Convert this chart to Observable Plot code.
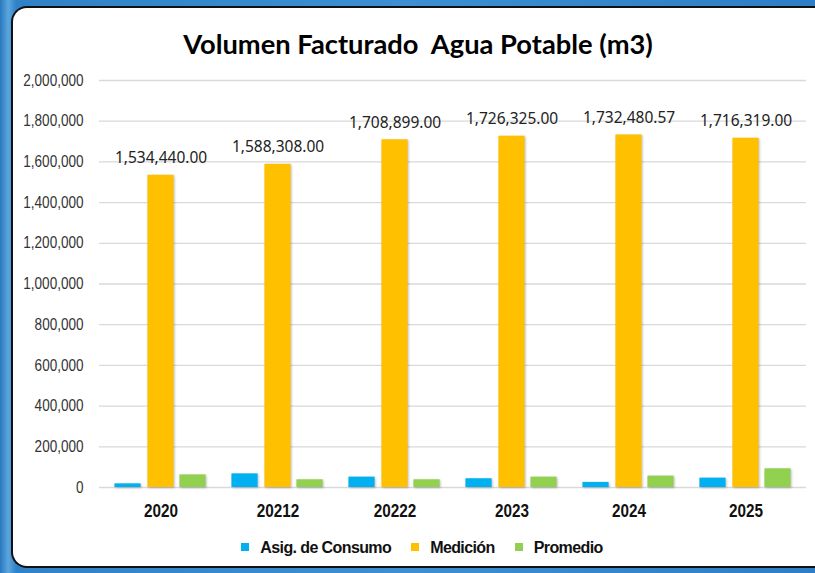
<!DOCTYPE html>
<html>
<head>
<meta charset="utf-8">
<script src="https://cdn.jsdelivr.net/npm/d3@7"></script>
<script src="https://cdn.jsdelivr.net/npm/@observablehq/plot@0.6"></script>
<style>
  html, body { margin: 0; padding: 0; overflow: hidden; background: #2f82c8; }
  #page {
    width: 815px; height: 573px; overflow: hidden; position: relative;
    background: linear-gradient(90deg, #2a78bf 0%, #5aa6de 1%, #2f82c8 2%, #3b8fd2 50%, #2c7ec6 100%);
  }
  #panel {
    position: absolute; left: 11px; top: 6px; width: 900px; height: 558px;
    background: #fff; border-left: 2px solid #111; border-top: 2px solid #111;
    border-bottom: 2px solid #111; border-right: 0 none;
    border-radius: 16px 0 0 16px;
  }
  #corner {
    position: absolute; left: 800px; top: 0px; width: 40px; height: 30px;
    border-top: 2px solid #111; border-right: 2px solid #111; border-top-right-radius: 14px;
    box-sizing: border-box; top: 6px; background: transparent;
    box-shadow: 8px -8px 0 6px #2f82c8;
    clip-path: inset(-20px -20px 0 0);
  }
  #title {
    position: absolute; left: 0; top: 27px; width: 836px; text-align: center;
    font-family: "Lato", "Open Sans", sans-serif; font-weight: bold; font-size: 27.3px; color: #000;
  }
  #chart { position: absolute; left: 0; top: 0; }
  #legend {
    position: absolute; left: 0; width: 844px; top: 539px; text-align: center;
    font-family: "Liberation Sans", Arial, sans-serif;
    font-weight: bold; font-size: 16px; color: #111; letter-spacing: -0.6px;
  }
  #legend span.item { margin: 0 10px; white-space: nowrap; }
  #legend span.sw { display: inline-block; width: 8px; height: 8px; margin-right: 11px; vertical-align: 2px; }
  g.bars { filter: drop-shadow(1.5px 1px 1px rgba(0,0,0,0.25)); }
</style>
</head>
<body>
<div id="page">
<div id="panel"></div>
<div id="title">Volumen Facturado&nbsp; Agua Potable (m3)</div>
<div id="chart"></div>
<div id="legend"></div>
</div>
<script>
const categories = ["2020", "20212", "20222", "2023", "2024", "2025"];
const asigConsumo = [18000, 67000, 51000, 43000, 25000, 46000];
const medicion = [1534440.00, 1588308.00, 1708899.00, 1726325.00, 1732480.57, 1716319.00];
const promedio = [62000, 38000, 38000, 51000, 56000, 92000];
const seriesNames = ["Asig. de Consumo", "Medición", "Promedio"];
const seriesColors = ["#00b0f0", "#ffc000", "#92d050"];
const yTicks = [0, 200000, 400000, 600000, 800000, 1000000, 1200000, 1400000, 1600000, 1800000, 2000000];

const seriesValues = [asigConsumo, medicion, promedio];
const rows = [];
seriesNames.forEach((s, si) => categories.forEach((c, ci) => rows.push({cat: c, series: s, value: seriesValues[si][ci]})));

const W = 815, H = 530, mL = 99, mR = 9;
const bw = (W - mL - mR) / categories.length;
const barW = 27, offs = [-33, 0, 32];

const fmtLabel = d3.format(",.2f");
const sans = '"Liberation Sans", Arial, sans-serif';

const barMarks = seriesNames.map((s, i) => Plot.barY(rows.filter(r => r.series === s), {
  x: "cat", y: "value", fill: seriesColors[i],
  insetLeft: bw / 2 + offs[i] - barW / 2,
  insetRight: bw / 2 - offs[i] - barW / 2,
  className: "bars"
}));

const chart = Plot.plot({
  width: W, height: H,
  marginTop: 80, marginBottom: 43, marginLeft: mL, marginRight: mR,
  style: { background: "transparent", fontFamily: sans, overflow: "visible" },
  x: { domain: categories, padding: 0, label: null },
  y: { domain: [0, 2000000], label: null },
  marks: [
    Plot.gridY(yTicks, { stroke: "#d9d9d9", strokeOpacity: 1, strokeWidth: 1.3 }),
    ...barMarks,
    Plot.text(rows.filter(r => r.series === "Medición"), {
      x: "cat", y: "value", text: d => fmtLabel(d.value), dy: -17,
      fontFamily: '"Noto Sans", sans-serif', fontSize: 15.5, fill: "#222"
    }),
    Plot.axisX({ tickSize: 0, tickPadding: 17, fontSize: 18, fontWeight: "bold", fill: "#111", label: null, className: "xt" }),
    Plot.axisY(yTicks, { tickSize: 0, tickPadding: 16, fontSize: 16, fill: "#333", tickFormat: d3.format(","), label: null, className: "yt" })
  ]
});
document.getElementById("chart").appendChild(chart);

// condensed (Arial Narrow-like) look for axis tick labels
function condense(sel, k) {
  chart.querySelectorAll(sel).forEach(t => {
    const len = t.getComputedTextLength();
    if (len > 0) {
      t.setAttribute("textLength", (len * k).toFixed(1));
      t.setAttribute("lengthAdjust", "spacingAndGlyphs");
    }
  });
}
condense("g.yt text", 0.845);
condense("g.xt text", 0.85);

const legend = document.getElementById("legend");
seriesNames.forEach((s, i) => {
  const item = document.createElement("span");
  item.className = "item";
  const sw = document.createElement("span");
  sw.className = "sw";
  sw.style.background = seriesColors[i];
  item.appendChild(sw);
  item.appendChild(document.createTextNode(s));
  legend.appendChild(item);
});
</script>
</body>
</html>
